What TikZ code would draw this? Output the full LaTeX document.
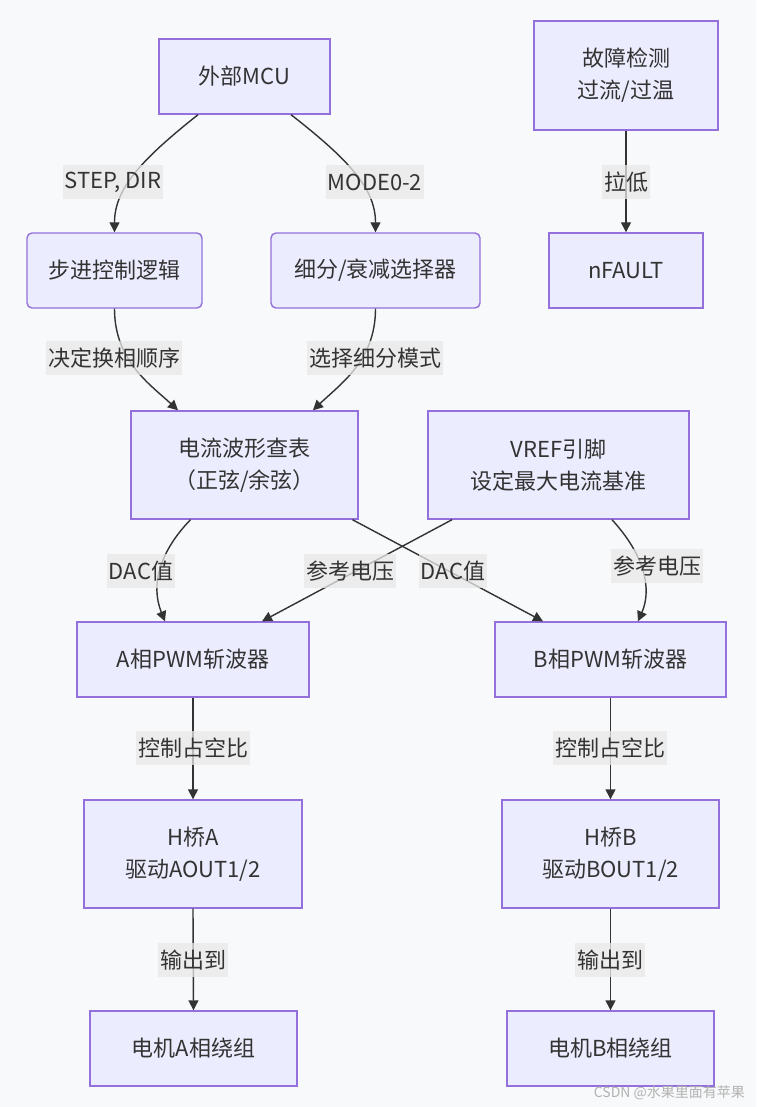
\documentclass[tikz,border=0pt]{standalone}
\usepackage{fontspec}
\setmainfont{Noto Sans CJK SC}
\usetikzlibrary{arrows.meta,calc}
\definecolor{bgc}{HTML}{F8F9FA}
\definecolor{nodefill}{HTML}{ECECFF}
\definecolor{nodeborder}{HTML}{9370DB}
\definecolor{edgec}{HTML}{333333}
\definecolor{lblfill}{HTML}{E8E8E8}
\definecolor{txt}{HTML}{333333}
\begin{document}
\begin{tikzpicture}[x=0.5pt,y=-0.5pt,
 box/.style={draw=nodeborder,fill=nodefill,line width=0.7pt,text=txt,font=\fontsize{11}{16}\selectfont,align=center,inner sep=0pt},
 rbox/.style={box,rounded corners=2.5pt},
 lbl/.style={fill=lblfill,fill opacity=0.75,text opacity=1,text=txt,font=\fontsize{11}{16}\selectfont,inner xsep=1pt,inner ysep=0pt,minimum height=17pt},
 conn/.style={draw=edgec,line width=0.7pt,-{Triangle[length=5pt,width=5pt]}}]
\fill[bgc] (0,0) rectangle (756,1107);
\useasboundingbox (0,0) rectangle (756,1107);
% nodes
\node[box,minimum width=85.5pt,minimum height=37.5pt] (mcu) at (244.5,76.5) {外部MCU};
\node[rbox,minimum width=87.5pt,minimum height=37.5pt] (step) at (114.5,270.5) {步进控制逻辑};
\node[rbox,minimum width=104.5pt,minimum height=37.5pt] (mode) at (375.5,270.5) {细分/衰减选择器};
\node[box,minimum width=92pt,minimum height=54.5pt] (fault) at (626,75.5) {故障检测\\过流/过温};
\node[box,minimum width=77pt,minimum height=37.5pt] (nfault) at (626,270.5) {nFAULT};
\node[box,minimum width=113.5pt,minimum height=54pt] (table) at (244.5,465) {电流波形查表\\（正弦/余弦）};
\node[box,minimum width=130.5pt,minimum height=54pt] (vref) at (558.5,465) {VREF引脚\\设定最大电流基准};
\node[box,minimum width=116pt,minimum height=37.5pt] (pwma) at (193,659.5) {A相PWM斩波器};
\node[box,minimum width=115.5pt,minimum height=37.5pt] (pwmb) at (610.5,659.5) {B相PWM斩波器};
\node[box,minimum width=109pt,minimum height=54pt] (hba) at (193,854) {H桥A\\驱动AOUT1/2};
\node[box,minimum width=108.5pt,minimum height=54pt] (hbb) at (610.5,854) {H桥B\\驱动BOUT1/2};
\node[box,minimum width=103.5pt,minimum height=37.5pt] (mota) at (193.5,1048.5) {电机A相绕组};
\node[box,minimum width=103.5pt,minimum height=37.5pt] (motb) at (610.5,1048.5) {电机B相绕组};
% connectors
\draw[conn] ($(mcu.south)+(-46.5,0)$) .. controls +(-58,46) and +(0,-43) .. (step.north);
\draw[conn] ($(mcu.south)+(46.5,0)$) .. controls +(59,46) and +(0,-43) .. (mode.north);
\draw[conn] (fault.south) -- (nfault.north);
\draw[conn] (step.south) .. controls +(0,52) and +(-28,-26) .. ($(table.north)+(-66.5,0)$);
\draw[conn] (mode.south) .. controls +(0,52) and +(27,-26) .. ($(table.north)+(68.5,0)$);
\draw[conn] ($(table.south)+(-54,0)$) .. controls +(-30,31) and +(-15,-37) .. ($(pwma.north)+(-28,0)$);
\draw[conn] ($(table.south)+(108,0)$) -- ($(pwmb.north)+(-67.5,0)$);
\draw[conn] ($(vref.south)+(-106.5,0)$) -- ($(pwma.north)+(69,0)$);
\draw[conn] ($(vref.south)+(53.5,0)$) .. controls +(33,36) and +(14,-32) .. ($(pwmb.north)+(27.5,0)$);
\draw[conn] (pwma.south) -- (hba.north);
\draw[conn] (pwmb.south) -- (hbb.north);
\draw[conn] (hba.south) -- (mota.north);
\draw[conn] (hbb.south) -- (motb.north);
% labels
\node[lbl] (l1) at (113,182) {STEP, DIR};
\node[lbl] (l2) at (375,182) {MODE0-2};
\node[lbl] (l3) at (626,182) {拉低};
\node[lbl] (l4) at (114,358) {决定换相顺序};
\node[lbl] (l5) at (375,358) {选择细分模式};
\node[lbl] (l6) at (141,571) {DAC值};
\node[lbl] (l7) at (350,571) {参考电压};
\node[lbl] (l8) at (453,571) {DAC值};
\node[lbl] (l9) at (657,566) {参考电压};
\node[lbl] (l10) at (193,748) {控制占空比};
\node[lbl] (l11) at (610,748) {控制占空比};
\node[lbl] (l12) at (193,960) {输出到};
\node[lbl] (l13) at (610,960) {输出到};
% watermark
\node[text=black!30,font=\fontsize{7}{8}\selectfont,anchor=east] (wm) at (752,1093) {CSDN @水果里面有苹果};
\end{tikzpicture}
\end{document}
